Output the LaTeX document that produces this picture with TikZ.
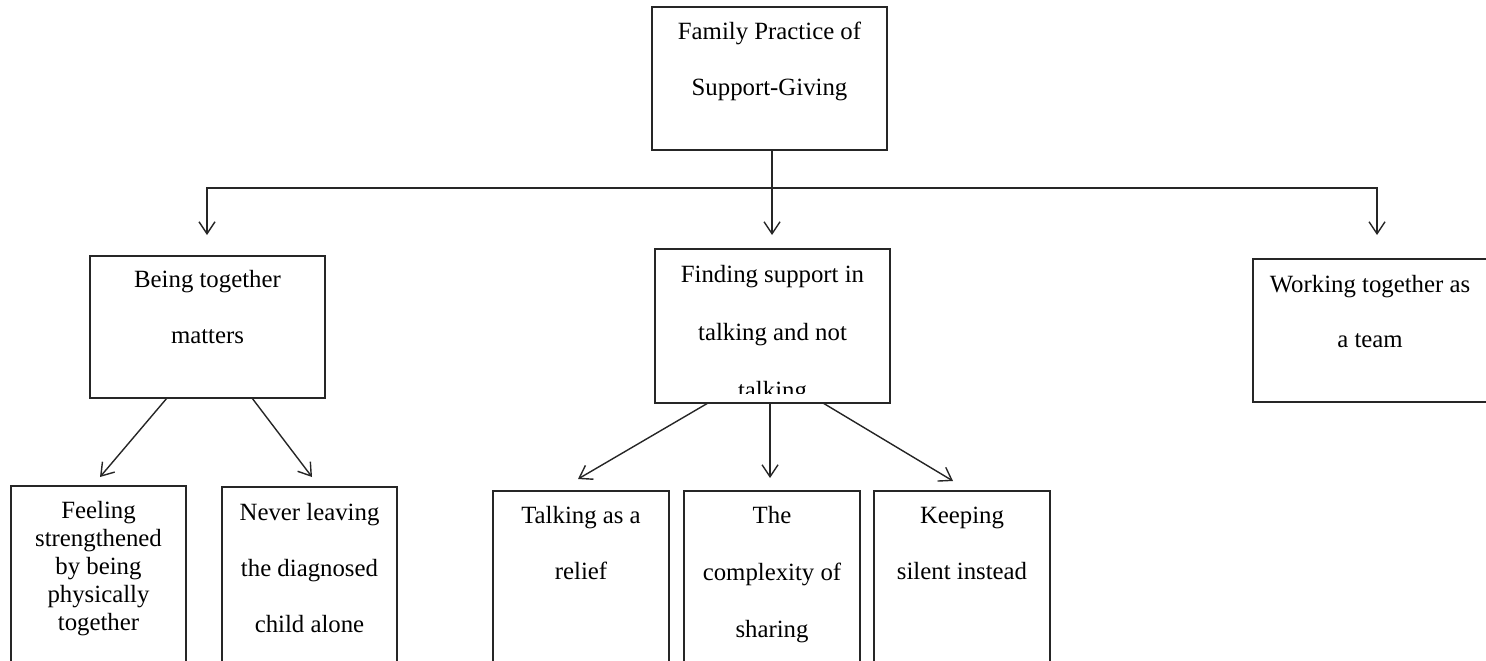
\documentclass[tikz,border=0pt]{standalone}
\usepackage{fontspec}
\setmainfont{Liberation Serif}
\usetikzlibrary{arrows.meta,calc}
\newcommand\boxtxt[5]{\parbox[t][\dimexpr#2pt/2\relax][t]{\dimexpr#1pt/2\relax}{\centering\baselineskip=\dimexpr#4pt/2\relax\relax\rule{0pt}{\dimexpr#3pt/2\relax}#5\par}}
\tikzset{
  txt/.style={inner sep=0pt, outer sep=0pt, anchor=north west, font=\fontsize{12.4pt}{15pt}\selectfont},
  box/.style={txt, draw=black!85, line width=0.7pt},
  conn/.style={draw=black!85, line width=0.7pt},
  arr/.style={conn, -{Straight Barb[length=6pt,width=8pt]}}
}
\begin{document}
\begin{tikzpicture}[x=0.5pt,y=-0.5pt]
\useasboundingbox (0,0) rectangle (1486,660);
\clip (0,0) rectangle (1486,660);

% top
\node[box] (top) at (652,7) {\boxtxt{235}{143}{32}{56}{Family Practice of\\Support-Giving}};

% level 2
\node[box] (being) at (90,256) {\boxtxt{235}{142}{31}{56}{Being together\\matters}};
\begin{scope}
  \clip (655,249) rectangle (890,393);
  \node[txt] (mid) at (655,249) {\boxtxt{235}{154}{33}{58}{Finding support in\\talking and not\\talking}};
\end{scope}
\draw[conn] (mid.north west) rectangle (mid.south east);
\node[box] (team) at (1253,259) {\boxtxt{234}{143}{33}{55}{Working together as\\a team}};

% level 3
\node[box] (b1) at (11,486) {\boxtxt{175}{184}{32}{28}{Feeling\\strengthened\\by being\\physically\\together}};
\node[box] (b2) at (222,487) {\boxtxt{175}{183}{33}{56}{Never leaving\\the diagnosed\\child alone}};
\node[box] (b3) at (493,491) {\boxtxt{176}{179}{32}{56}{Talking as a\\relief}};
\node[box] (b4) at (684,491) {\boxtxt{176}{179}{32}{57}{The\\complexity of\\sharing}};
\node[box] (b5) at (874,491) {\boxtxt{176}{179}{32}{56}{Keeping\\silent instead}};

% connectors from top
\coordinate (j) at (772,188);
\coordinate (tL) at (207,235);
\coordinate (tM) at (772,235);
\coordinate (tR) at (1377,235);
\draw[arr] (j |- top.south) -- (tM);
\draw[arr] (j) -| (tL);
\draw[arr] (j) -| (tR);

% connectors from being
\coordinate (t1) at (100,477);
\coordinate (t2) at (312,477);
\draw[arr] ($(being.south west)+(77,0)$) -- (t1);
\draw[arr] ($(being.south west)+(162,0)$) -- (t2);

% connectors from mid
\coordinate (t3) at (578,479);
\coordinate (t4) at (770,478);
\coordinate (t5) at (953,481);
\draw[arr] ($(mid.south west)+(53,0)$) -- (t3);
\draw[arr] ($(mid.south west)+(115,0)$) -- (t4);
\draw[arr] ($(mid.south west)+(168,0)$) -- (t5);
\end{tikzpicture}
\end{document}
